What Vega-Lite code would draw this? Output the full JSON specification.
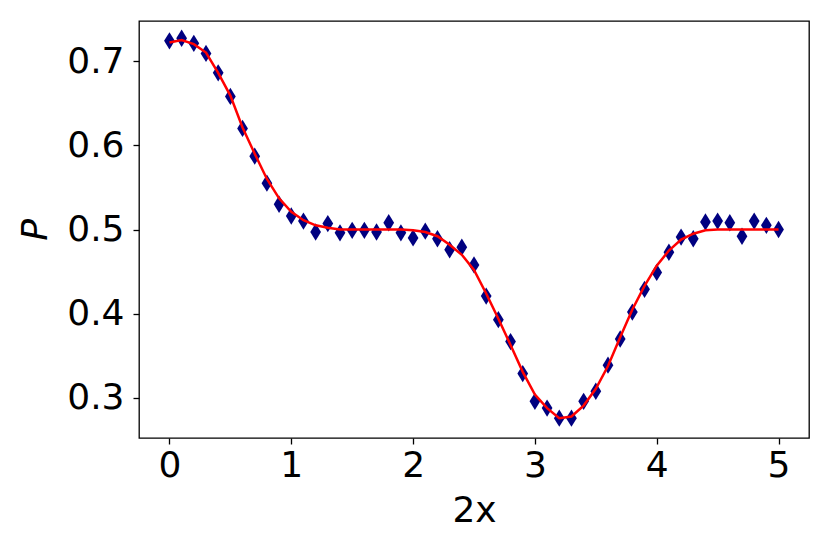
{
  "$schema": "https://vega.github.io/schema/vega-lite/v6.json",
  "width": 670,
  "height": 417,
  "autosize": {"type": "none"},
  "padding": {"left": 139, "top": 21, "right": 21, "bottom": 116},
  "background": "white",
  "config": {
    "view": {"stroke": "black", "strokeWidth": 1.3},
    "font": "DejaVu Sans",
    "axis": {
      "grid": false,
      "domain": false,
      "tickColor": "black",
      "tickSize": 6,
      "tickWidth": 1.3,
      "labelFont": "DejaVu Sans",
      "labelFontSize": 36,
      "labelColor": "black",
      "titleFont": "DejaVu Sans",
      "titleFontSize": 36,
      "titleFontWeight": "normal",
      "titleColor": "black"
    }
  },
  "data": {
    "values": [
      {"x": 0.0, "p": 0.724, "fit": 0.722},
      {"x": 0.1, "p": 0.727, "fit": 0.725},
      {"x": 0.2, "p": 0.721, "fit": 0.720},
      {"x": 0.3, "p": 0.709, "fit": 0.710},
      {"x": 0.4, "p": 0.686, "fit": 0.686},
      {"x": 0.5, "p": 0.658, "fit": 0.659},
      {"x": 0.6, "p": 0.620, "fit": 0.621},
      {"x": 0.7, "p": 0.587, "fit": 0.590},
      {"x": 0.8, "p": 0.555, "fit": 0.560},
      {"x": 0.9, "p": 0.530, "fit": 0.537},
      {"x": 1.0, "p": 0.516, "fit": 0.521},
      {"x": 1.1, "p": 0.510, "fit": 0.511},
      {"x": 1.2, "p": 0.497, "fit": 0.505},
      {"x": 1.3, "p": 0.507, "fit": 0.502},
      {"x": 1.4, "p": 0.496, "fit": 0.500},
      {"x": 1.5, "p": 0.499, "fit": 0.500},
      {"x": 1.6, "p": 0.499, "fit": 0.500},
      {"x": 1.7, "p": 0.497, "fit": 0.500},
      {"x": 1.8, "p": 0.508, "fit": 0.500},
      {"x": 1.9, "p": 0.496, "fit": 0.500},
      {"x": 2.0, "p": 0.490, "fit": 0.499},
      {"x": 2.1, "p": 0.498, "fit": 0.497},
      {"x": 2.2, "p": 0.489, "fit": 0.492},
      {"x": 2.3, "p": 0.476, "fit": 0.482},
      {"x": 2.4, "p": 0.479, "fit": 0.470},
      {"x": 2.5, "p": 0.458, "fit": 0.452},
      {"x": 2.6, "p": 0.421, "fit": 0.424},
      {"x": 2.7, "p": 0.393, "fit": 0.394},
      {"x": 2.8, "p": 0.367, "fit": 0.363},
      {"x": 2.9, "p": 0.329, "fit": 0.331},
      {"x": 3.0, "p": 0.296, "fit": 0.304},
      {"x": 3.1, "p": 0.288, "fit": 0.288},
      {"x": 3.2, "p": 0.276, "fit": 0.276},
      {"x": 3.3, "p": 0.276, "fit": 0.278},
      {"x": 3.4, "p": 0.296, "fit": 0.291},
      {"x": 3.5, "p": 0.308, "fit": 0.311},
      {"x": 3.6, "p": 0.339, "fit": 0.338},
      {"x": 3.7, "p": 0.370, "fit": 0.372},
      {"x": 3.8, "p": 0.402, "fit": 0.405},
      {"x": 3.9, "p": 0.429, "fit": 0.433},
      {"x": 4.0, "p": 0.449, "fit": 0.457},
      {"x": 4.1, "p": 0.473, "fit": 0.475},
      {"x": 4.2, "p": 0.491, "fit": 0.488},
      {"x": 4.3, "p": 0.489, "fit": 0.495},
      {"x": 4.4, "p": 0.509, "fit": 0.499},
      {"x": 4.5, "p": 0.510, "fit": 0.500},
      {"x": 4.6, "p": 0.508, "fit": 0.500},
      {"x": 4.7, "p": 0.492, "fit": 0.500},
      {"x": 4.8, "p": 0.510, "fit": 0.500},
      {"x": 4.9, "p": 0.505, "fit": 0.500},
      {"x": 5.0, "p": 0.500, "fit": 0.500}
    ]
  },
  "encoding": {
    "x": {
      "field": "x",
      "type": "quantitative",
      "scale": {"domain": [-0.25, 5.25], "nice": false, "zero": false},
      "axis": {"values": [0, 1, 2, 3, 4, 5], "title": "2x", "labelPadding": 4, "titlePadding": 10, "format": "d"}
    }
  },
  "layer": [
    {
      "mark": {"type": "point", "shape": "M0,-1L0.62,0L0,1L-0.62,0Z", "filled": true, "color": "#000080", "size": 300, "opacity": 1},
      "encoding": {
        "y": {
          "field": "p",
          "type": "quantitative",
          "scale": {"domain": [0.2525, 0.7475], "nice": false, "zero": false},
          "axis": {"values": [0.3, 0.4, 0.5, 0.6, 0.7], "format": ".1f", "title": "P", "titleFontStyle": "italic", "labelPadding": 9, "titlePadding": 12}
        }
      }
    },
    {
      "mark": {"type": "line", "color": "#ff0000", "strokeWidth": 2.5},
      "encoding": {
        "y": {"field": "fit", "type": "quantitative"}
      }
    }
  ]
}
